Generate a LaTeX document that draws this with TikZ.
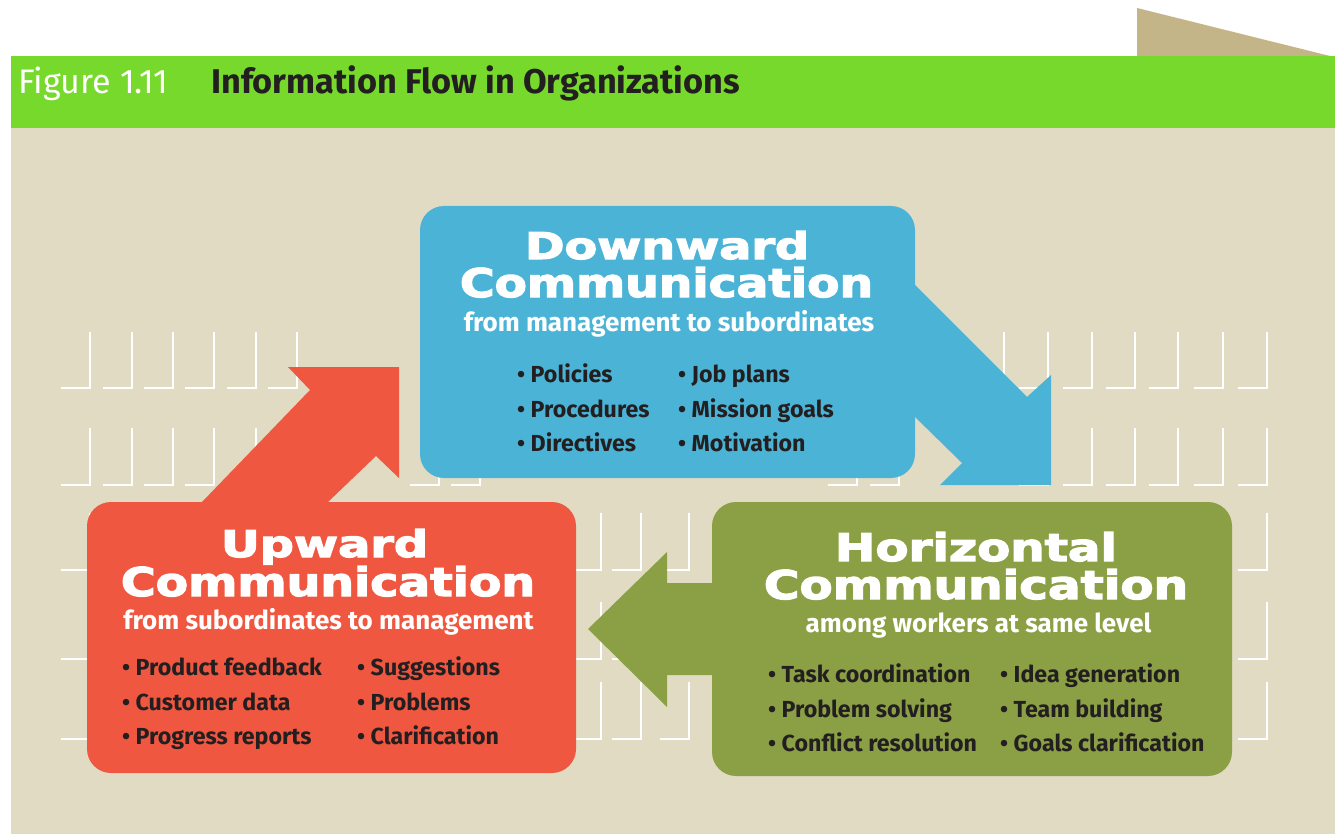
\documentclass[tikz,border=0pt]{standalone}
\usepackage{fontspec}
\usepackage{graphicx}
\setmainfont{Fira Sans}
\newfontfamily\headfont{DejaVu Sans}[BoldFeatures={FakeBold=3}]

\definecolor{bgtan}{HTML}{E1DBC4}
\definecolor{tabtan}{HTML}{C4B588}
\definecolor{barGreen}{HTML}{76D92B}
\definecolor{boxBlue}{HTML}{4BB4D6}
\definecolor{boxRed}{HTML}{F05740}
\definecolor{boxGreen}{HTML}{8BA045}
\definecolor{ink}{HTML}{231F20}

% wide display lettering, stretched to a given width and height
\newcommand\headtxt[3]{\resizebox{#1pt}{#2pt}{\headfont\bfseries #3}}

\tikzset{
  gridmark/.style={white, line width=1.6pt},
  panel/.style={rounded corners=24pt, inner sep=0pt, draw=none},
  headline/.style={anchor=base, inner sep=0pt, text=white},
  subline/.style={anchor=base, inner sep=0pt, text=white,
    font=\bfseries\fontsize{26}{31}\selectfont},
  item/.style={anchor=base west, inner sep=0pt, text=ink,
    font=\bfseries\fontsize{23.2}{28}\selectfont},
}

\begin{document}
\begin{tikzpicture}[x=1pt,y=-1pt]
\useasboundingbox (0,0) rectangle (1335,834);
\fill[white] (0,0) rectangle (1335,834);

% header strip with the folded tab
\fill[tabtan] (1137,8) -- (1330,56) -- (1137,56) -- cycle;
\fill[barGreen] (11,56) rectangle (1335,128);
\fill[bgtan] (11,128) rectangle (1335,834);

\node[anchor=base west, inner sep=0pt, text=white,
      font=\fontsize{34}{40}\selectfont] (fig) at (18,94) {Figure 1.11};
\node[anchor=base west, inner sep=0pt, text=ink,
      font=\bfseries\fontsize{34.3}{40}\selectfont] (title) at (211,94)
      {Information Flow in Organizations};

% background pattern of corner marks
\foreach \x in {90,132,173,214,256,297,1004,1048,1092,1135,1178,1223,1267}
  \draw[gridmark] (\x-29,388) -- (\x,388) -- (\x,332);
\foreach \x in {90,132,173,214,256,297,439,480,857,899,1048,1092,1135,1178,1223,1267}
  \draw[gridmark] (\x-29,485) -- (\x,485) -- (\x,428);
\foreach \y in {513,602,682}
  \foreach \x in {90,601,641,689,1267}
    \draw[gridmark] (\x-29,\y+57) -- (\x,\y+57) -- (\x,\y);

% flow arrows
\fill[boxRed] (202,502) -- (310,390) -- (288,367) -- (399,367)
  -- (399,478) -- (376,456) -- (328,502) -- cycle;
\fill[boxBlue] (905,285) -- (915,285) -- (1027,397) -- (1051,375)
  -- (1051,485) -- (940,485) -- (962,463) -- (915,417) -- (905,417) -- cycle;
\fill[boxGreen] (722,583) -- (667,583) -- (667,552) -- (588,629)
  -- (667,707) -- (667,675) -- (722,675) -- cycle;

% panels
\node[panel, fill=boxBlue, minimum width=495pt, minimum height=272pt]
  (down) at (667.5,342) {};
\node[panel, fill=boxRed, minimum width=489pt, minimum height=271pt]
  (up) at (331.5,637.5) {};
\node[panel, fill=boxGreen, minimum width=520pt, minimum height=274pt]
  (horiz) at (972,639) {};

% downward panel text
\node[headline] (dA) at (667,259) {\headtxt{284}{28}{Downward}};
\node[headline] (dB) at (666.5,297) {\headtxt{413}{30}{Communication}};
\node[subline] (dC) at (669,331) {from management to subordinates};
\node[item] (d1) at (517,382) {• Policies};
\node[item] (d2) at (517,417) {• Procedures};
\node[item] (d3) at (517,451) {• Directives};
\node[item] (d4) at (678,382) {• Job plans};
\node[item] (d5) at (678,417) {• Mission goals};
\node[item] (d6) at (678,451) {• Motivation};

% upward panel text
\node[headline] (uA) at (324.5,557) {\headtxt{207}{28}{Upward}};
\node[headline] (uB) at (328,596) {\headtxt{414}{30}{Communication}};
\node[subline] (uC) at (328.5,629) {from subordinates to management};
\node[item] (u1) at (122,675) {• Product feedback};
\node[item] (u2) at (122,710) {• Customer data};
\node[item] (u3) at (122,744) {• Progress reports};
\node[item] (u4) at (357,675) {• Suggestions};
\node[item] (u5) at (357,710) {• Problems};
\node[item] (u6) at (357,744) {• Clarification};

% horizontal panel text
\node[headline] (hA) at (976,561) {\headtxt{282}{29}{Horizontal}};
\node[headline] (hB) at (976,599) {\headtxt{424}{30}{Communication}};
\node[subline] (hC) at (978.5,632) {among workers at same level};
\node[item] (h1) at (768,682) {• Task coordination};
\node[item] (h2) at (768,717) {• Problem solving};
\node[item] (h3) at (768,751) {• Conflict resolution};
\node[item] (h4) at (1000,682) {• Idea generation};
\node[item] (h5) at (1000,717) {• Team building};
\node[item] (h6) at (1000,751) {• Goals clarification};
\end{tikzpicture}
\end{document}
